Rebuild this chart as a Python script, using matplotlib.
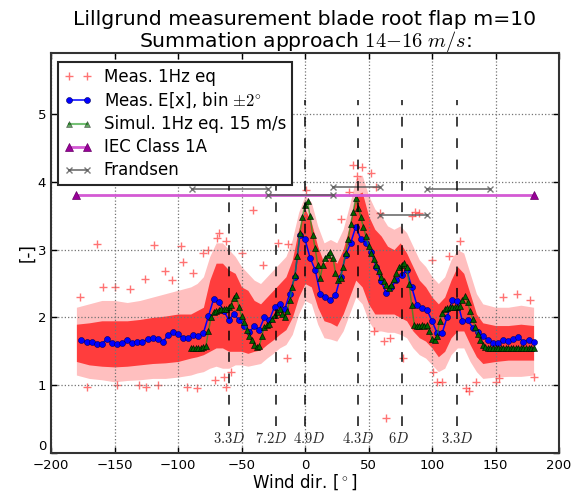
import numpy as np
import matplotlib
matplotlib.use("Agg")
import matplotlib.pyplot as plt

plt.rcParams["font.family"] = ["DejaVu Sans"]
plt.rcParams["mathtext.fontset"] = "cm"

# ---- measured 1 Hz equivalent loads: dense band and scattered points ----
env_x = [-180, -170, -160, -150, -140, -130, -120, -110, -100, -90, -85, -80, -75,
         -70, -65, -60, -55, -50, -45, -40, -35, -30, -25, -20, -15, -10, -5, 0,
         5, 10, 15, 20, 25, 30, 35, 40, 45, 50, 55, 60, 65, 70, 75, 80, 85, 90,
         95, 100, 105, 110, 115, 120, 125, 130, 135, 140, 150, 160, 170, 180]
core_lo = [1.35, 1.30, 1.28, 1.27, 1.28, 1.30, 1.32, 1.33, 1.35, 1.40, 1.42, 1.45, 1.50,
           1.55, 1.55, 1.50, 1.50, 1.50, 1.47, 1.50, 1.52, 1.60, 1.67, 1.75, 1.82, 2.00,
           2.30, 2.50, 2.45, 2.15, 1.95, 1.92, 1.87, 2.05, 2.30, 2.55, 2.45, 2.20, 2.05,
           2.05, 2.05, 2.05, 2.00, 1.95, 1.80, 1.70, 1.65, 1.55, 1.42, 1.50, 1.70, 1.80,
           1.80, 1.60, 1.42, 1.32, 1.35, 1.37, 1.37, 1.37]
core_hi = [1.90, 1.92, 1.95, 1.95, 1.95, 1.97, 2.00, 2.02, 2.05, 2.05, 2.10, 2.15, 2.55,
           2.80, 2.80, 2.70, 2.65, 2.45, 2.40, 2.25, 2.20, 2.30, 2.40, 2.50, 2.60, 2.85,
           3.30, 3.60, 3.40, 3.05, 2.80, 2.90, 2.80, 3.00, 3.35, 3.80, 3.85, 3.50, 3.30,
           3.20, 3.05, 3.00, 3.10, 2.95, 2.75, 2.55, 2.45, 2.30, 2.20, 2.30, 2.55, 2.75,
           2.65, 2.35, 2.05, 1.92, 1.88, 1.88, 1.90, 1.88]
halo_lo = [1.15, 1.10, 1.08, 1.05, 1.07, 1.08, 1.10, 1.10, 1.12, 1.15, 1.18, 1.20, 1.25,
           1.28, 1.25, 1.25, 1.30, 1.30, 1.28, 1.30, 1.32, 1.40, 1.47, 1.55, 1.60, 1.75,
           2.05, 2.25, 2.20, 1.90, 1.70, 1.68, 1.65, 1.80, 2.05, 2.30, 2.20, 1.95, 1.80,
           1.80, 1.78, 1.78, 1.75, 1.70, 1.55, 1.45, 1.40, 1.30, 1.20, 1.25, 1.45, 1.55,
           1.55, 1.35, 1.20, 1.10, 1.12, 1.13, 1.13, 1.15]
halo_hi = [2.15, 2.20, 2.25, 2.25, 2.22, 2.25, 2.30, 2.35, 2.40, 2.45, 2.50, 2.60, 2.90,
           3.10, 3.10, 3.00, 2.90, 2.75, 2.65, 2.55, 2.50, 2.60, 2.70, 2.80, 2.90, 3.15,
           3.55, 3.80, 3.70, 3.35, 3.10, 3.15, 3.10, 3.30, 3.65, 4.05, 4.10, 3.80, 3.60,
           3.50, 3.35, 3.30, 3.35, 3.25, 3.05, 2.85, 2.75, 2.60, 2.50, 2.60, 2.85, 3.00,
           2.95, 2.65, 2.35, 2.20, 2.15, 2.15, 2.18, 2.15]

scatter_x = [-177, -164, -159, -138, -126, -119, -110, -98, -96, -88, -76, -69, -68,
             -62, -148, -131, -125, -116, -93, -85, -71, -62, -64, -41, -33, -21,
             -13, -14, -50, -58, 1, 45, 52, 41, 38, 56, 35, 59, 28, 84, 90, 87, 64,
             77, 101, 108, 104, 127, 129, 135, 153, 180, 122, 156, 167, 177, 62, 67,
             54, 150, 113, 100, -150, -105, -172, -80]
scatter_y = [2.30, 3.08, 2.45, 2.42, 2.56, 3.07, 2.68, 3.05, 2.81, 2.65, 3.00, 3.17, 3.25,
             3.12, 1.00, 1.00, 0.97, 1.00, 0.98, 0.96, 1.07, 0.98, 1.12, 3.59, 2.78, 3.10,
             3.08, 1.40, 2.95, 1.20, 3.88, 4.22, 4.13, 4.08, 4.25, 3.93, 3.85, 3.54, 3.45,
             3.49, 3.54, 3.56, 0.51, 1.40, 1.20, 1.05, 1.05, 0.96, 0.92, 1.05, 1.10, 1.12,
             3.12, 2.30, 2.35, 2.25, 1.65, 1.70, 1.80, 1.05, 2.90, 2.85, 2.45, 2.55, 0.98,
             2.95]

# ---- bin-averaged measurements (bins of +-2 deg) ----
bin_x = list(range(-176, 181, 4))
bin_y = [1.67, 1.63, 1.63, 1.61, 1.61, 1.68, 1.62, 1.61, 1.62, 1.66, 1.62, 1.63, 1.64,
         1.68, 1.70, 1.68, 1.63, 1.74, 1.78, 1.75, 1.69, 1.69, 1.74, 1.72, 1.77, 2.02,
         2.27, 2.22, 2.10, 1.96, 2.05, 1.96, 1.88, 1.78, 1.87, 1.82, 2.00, 1.96, 2.16,
         2.20, 2.12, 2.35, 2.60, 3.22, 3.15, 2.88, 2.70, 2.35, 2.30, 2.25, 2.33, 2.60,
         2.92, 3.10, 3.34, 3.15, 3.10, 2.97, 2.75, 2.53, 2.36, 2.45, 2.55, 2.62, 2.70,
         2.45, 2.19, 2.14, 2.11, 1.95, 1.77, 1.77, 2.01, 2.26, 2.24, 1.94, 1.96, 1.85,
         1.78, 1.73, 1.67, 1.62, 1.62, 1.67, 1.65, 1.68, 1.71, 1.64, 1.67, 1.64]

# ---- simulated 1 Hz equivalent loads at 15 m/s ----
sim_x = list(range(-90, 181, 2))
sim_y = [1.55, 1.55, 1.55, 1.55, 1.55, 1.56, 1.58, 1.80, 2.00, 2.08, 2.10, 2.11, 2.12,
         2.12, 2.13, 2.15, 2.18, 2.28, 2.33, 2.15, 2.02, 1.93, 1.82, 1.72, 1.66, 1.60,
         1.56, 1.58, 1.72, 1.86, 1.89, 1.91, 1.97, 2.03, 2.08, 2.12, 2.05, 2.01, 2.10,
         2.25, 2.45, 2.62, 2.90, 3.25, 3.48, 3.66, 3.71, 3.49, 3.22, 3.02, 2.78, 2.58,
         2.78, 2.88, 2.92, 2.96, 2.88, 2.66, 2.55, 2.58, 2.75, 2.95, 3.15, 3.38, 3.56,
         3.76, 3.62, 3.48, 3.33, 3.20, 3.05, 2.95, 2.86, 2.78, 2.68, 2.60, 2.53, 2.48,
         2.44, 2.48, 2.57, 2.66, 2.74, 2.78, 2.80, 2.74, 2.50, 2.18, 1.89, 1.88, 1.88,
         1.89, 1.88, 1.89, 1.80, 1.68, 1.66, 1.72, 1.95, 2.06, 2.12, 2.14, 2.15, 2.16,
         2.16, 2.16, 2.17, 2.25, 2.31, 2.22, 2.10, 1.98, 1.86, 1.75, 1.66, 1.60, 1.56,
         1.55, 1.55, 1.55, 1.55, 1.55, 1.55, 1.55, 1.55, 1.55, 1.55, 1.55, 1.55, 1.55,
         1.55, 1.55, 1.55, 1.55, 1.55, 1.55]

# ---- reference levels ----
iec_x = [-180, 180]
iec_y = [3.8, 3.8]

frandsen_start = [-89, -29, 22, 59, 96]
frandsen_end = [-29, 22, 59, 96, 146]
frandsen_level = [3.90, 3.80, 3.93, 3.51, 3.90]

# ---- wake directions of neighbouring turbines ----
wake_dir = [-60, -23, 0, 42, 76, 120]
wake_label = ["$3.3D$", "$7.2D$", "$4.9D$", "$4.3D$", "$6D$", "$3.3D$"]
label_shift = [0, -3, 3, 0, -2, 0]  # points, keeps neighbouring labels apart

fig = plt.figure(figsize=(5.76, 4.98), dpi=100)
ax = fig.add_axes([51 / 576, 1 - 453 / 498, 508 / 576, 400 / 498])

ax.fill_between(env_x, halo_lo, halo_hi, color="red", alpha=0.25, lw=0, zorder=1)
ax.fill_between(env_x, core_lo, core_hi, color="red", alpha=0.68, lw=0, zorder=1.1)
ax.plot(scatter_x, scatter_y, "+", color="red", alpha=0.55, ms=6, mew=1,
        label="Meas. 1Hz eq", zorder=1.2)

ax.plot(bin_x, bin_y, "-", color="blue", lw=1.1, zorder=3)
ax.plot(bin_x, bin_y, "o", color="blue", mec="#000060", mew=0.4, ms=4.3, zorder=3.1)
ax.plot([], [], "-o", color="blue", mec="#000060", mew=0.4, ms=4.3, lw=1.1,
        label=r"Meas. E[x], bin $\pm2^{\circ}$")

ax.plot(sim_x, sim_y, "-", color=(0.1, 0.6, 0.1), lw=1.1, alpha=0.7, zorder=4)
ax.plot(sim_x, sim_y, "^", color="#006400", mec="k", mew=0.4, ms=4.5, zorder=4.1)
ax.plot([], [], "-", color=(0.1, 0.6, 0.1), lw=1.5, alpha=0.6, marker="^",
        mfc="#006400", mec="k", mew=0.4, ms=4.5, label="Simul. 1Hz eq. 15 m/s")

ax.plot(iec_x, iec_y, "-", color="#d45ad4", lw=2.0, zorder=5,
        marker="^", mfc="#990099", mec="#660066", ms=5.5, mew=0.5, label="IEC Class 1A")

for i, (x0, x1, lev) in enumerate(zip(frandsen_start, frandsen_end, frandsen_level)):
    ax.plot([x0, x1], [lev, lev], "-", color="0.35", lw=1.3, alpha=0.8,
            marker="x", ms=5, mew=1.0, zorder=6,
            label="Frandsen" if i == 0 else None)

for xd, lab, dx in zip(wake_dir, wake_label, label_shift):
    ax.plot([xd, xd], [0.4, 5.2], color="k", lw=1.4, alpha=0.75,
            dashes=(5, 6), zorder=7)
    ax.annotate(lab, (xd, 0.22), xytext=(dx, 0), textcoords="offset points",
                ha="center", va="center", fontsize=10.5, color="0.15")

ax.set_xlim(-200, 200)
ax.set_ylim(0, 5.9)
ax.set_xticks(np.arange(-200, 201, 50))
ax.set_yticks(np.arange(0, 6, 1))
ax.grid(True, ls=":", color="0.45", lw=0.9)
ax.tick_params(direction="in", top=True, right=True, length=4, labelsize=9.5,
               width=1)
ax.tick_params(axis="x", pad=4)
for sp in ax.spines.values():
    sp.set_linewidth(1.5)
    sp.set_color("0.2")

# the lowest y label sits above the axis corner so it clears the x labels
fig.canvas.draw()
ax.get_yticklabels()[0].set_verticalalignment("bottom")

ax.set_xlabel(r"Wind dir. [$^\circ$]", fontsize=12, labelpad=1)
ax.set_ylabel("[-]", fontsize=12, labelpad=1)
ax.set_title("Lillgrund measurement blade root flap m=10\n"
             r"Summation approach $14{-}16\ m/s$:", fontsize=14.7, pad=4,
             linespacing=1.05)

leg = ax.legend(loc="upper left", bbox_to_anchor=(7 / 508, 1 - 9 / 400),
                borderaxespad=0, fontsize=12, numpoints=2, handlelength=1.7,
                labelspacing=0.3, fancybox=False, framealpha=1,
                edgecolor="0.15", borderpad=0.35, handletextpad=0.7)
leg.get_frame().set_linewidth(1.5)
leg.set_zorder(20)

fig.savefig("out.png", dpi=100)
